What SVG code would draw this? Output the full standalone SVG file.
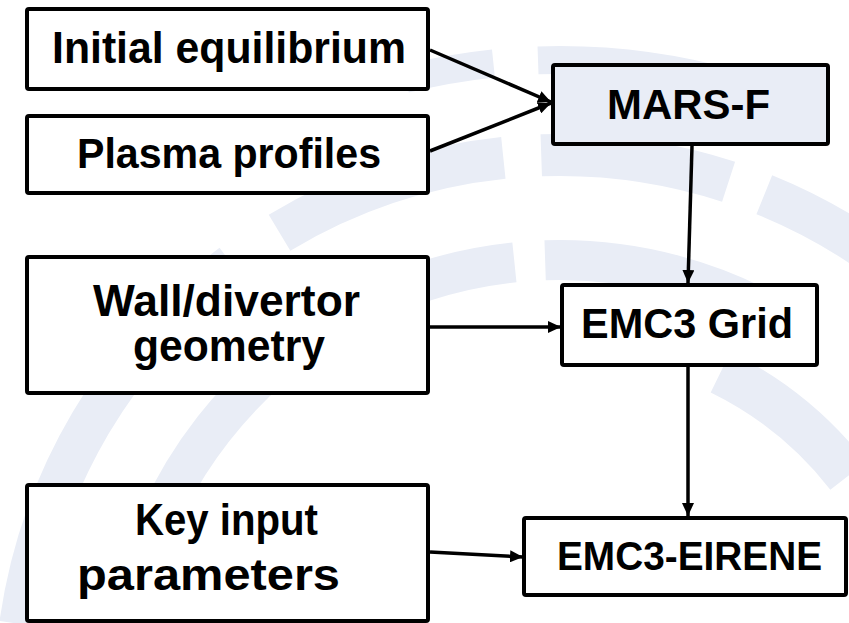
<svg xmlns="http://www.w3.org/2000/svg" width="849" height="623" viewBox="0 0 849 623">
<style>
.wm{fill:none;stroke:#e9edf6}
.box{fill:#ffffff;stroke:#000000;stroke-width:4}
.lbl{font-family:"Liberation Sans",Arial,sans-serif;font-weight:bold;font-size:44px;fill:#000000}
.conn{stroke:#000000;stroke-width:3.5;fill:none}
</style>
<defs>
<marker id="ah" markerUnits="userSpaceOnUse" markerWidth="14" markerHeight="12" refX="13" refY="6" orient="auto">
<path d="M0,0 L13,6 L0,12 z" fill="#000000"/>
</marker>
</defs>
<rect width="849" height="623" fill="#ffffff"/>
<g id="watermark">
<circle class="wm" cx="560" cy="700" r="545" stroke-width="42" stroke-dasharray="0 1788.3 428 57.1 237.8 38 190.2 38 123.7 523.2"/>
<circle class="wm" cx="560" cy="700" r="440" stroke-width="40" stroke-dasharray="0 1535.8 276.4 30.7 184.3 30.7 245.7 460.7"/>
<circle class="wm" cx="560" cy="700" r="365" stroke-width="45" stroke-dasharray="0 1885.6 165.6 242.1"/>
<circle class="wm" cx="560" cy="700" r="640" stroke-width="28" stroke-dasharray="0 2859.5 89.4 44.7 201.1 826.6"/>
</g>
<g id="connectors">
<line class="conn" x1="430" y1="50" x2="551" y2="102" marker-end="url(#ah)"/>
<line class="conn" x1="430" y1="151" x2="551" y2="103" marker-end="url(#ah)"/>
<line class="conn" x1="692" y1="146" x2="688" y2="283" marker-end="url(#ah)"/>
<line class="conn" x1="430" y1="327" x2="561" y2="327" marker-end="url(#ah)"/>
<line class="conn" x1="688" y1="367" x2="688" y2="516" marker-end="url(#ah)"/>
<line class="conn" x1="430" y1="552" x2="523" y2="557" marker-end="url(#ah)"/>
</g>
<g id="initial-equilibrium">
<rect class="box" x="27" y="9" width="401" height="80" rx="2"/>
<text class="lbl" x="52" y="63" textLength="354" lengthAdjust="spacingAndGlyphs">Initial equilibrium</text>
</g>
<g id="plasma-profiles">
<rect class="box" x="27" y="116" width="401" height="77" rx="2"/>
<text class="lbl" x="77" y="168" style="font-size:42px" textLength="304" lengthAdjust="spacingAndGlyphs">Plasma profiles</text>
</g>
<g id="mars-f">
<rect class="box" x="553" y="65" width="275" height="79" rx="2" style="fill:#e9edf6"/>
<text class="lbl" x="607" y="119" style="font-size:43px" textLength="163" lengthAdjust="spacingAndGlyphs">MARS-F</text>
</g>
<g id="wall-divertor">
<rect class="box" x="27" y="257" width="401" height="136" rx="2"/>
<text class="lbl" x="93" y="316" textLength="267" lengthAdjust="spacingAndGlyphs">Wall/divertor</text>
<text class="lbl" x="133" y="361" textLength="192" lengthAdjust="spacingAndGlyphs">geometry</text>
</g>
<g id="emc3-grid">
<rect class="box" x="562" y="285" width="255" height="80" rx="2"/>
<text class="lbl" x="581" y="338" style="font-size:42px" textLength="212" lengthAdjust="spacingAndGlyphs">EMC3 Grid</text>
</g>
<g id="key-input">
<rect class="box" x="27" y="485" width="401" height="136" rx="2"/>
<text class="lbl" x="135" y="535" textLength="183" lengthAdjust="spacingAndGlyphs">Key input</text>
<text class="lbl" x="77" y="590" textLength="263" lengthAdjust="spacingAndGlyphs">parameters</text>
</g>
<g id="emc3-eirene">
<rect class="box" x="524" y="518" width="322" height="77" rx="2"/>
<text class="lbl" x="557" y="570" style="font-size:40px" textLength="265" lengthAdjust="spacingAndGlyphs">EMC3-EIRENE</text>
</g>
</svg>
